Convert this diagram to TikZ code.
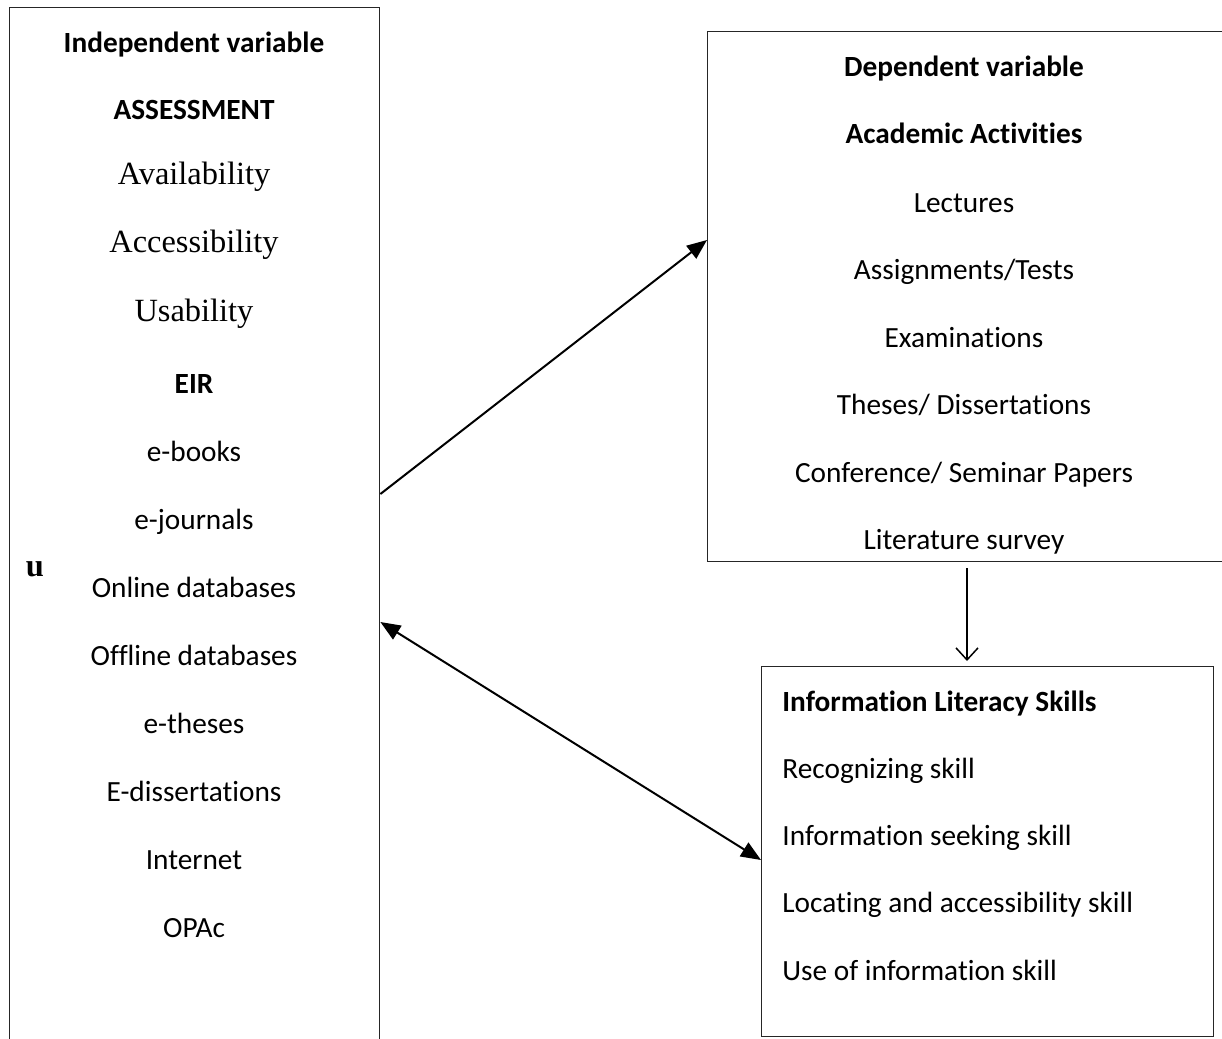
\documentclass[tikz,border=0pt]{standalone}
\usepackage{fontspec}
\setmainfont{Carlito}[Ligatures=NoCommon]
\newfontfamily\timesf{Liberation Serif}
\usetikzlibrary{arrows.meta,calc}
\begin{document}
\begin{tikzpicture}[x=0.5pt,y=-0.5pt,
  box/.style={draw=black!85,line width=0.7pt,rectangle,inner sep=0pt,anchor=north west},
  ctext/.style={inner sep=0pt,anchor=base,font=\fontsize{14.65pt}{16pt}\selectfont},
  btext/.style={ctext,font=\fontsize{14.65pt}{16pt}\selectfont\bfseries},
  ttext/.style={inner sep=0pt,anchor=base,font=\fontsize{16.2pt}{18pt}\selectfont\timesf},
  ltext/.style={inner sep=0pt,anchor=base west,font=\fontsize{14.65pt}{16pt}\selectfont},
  lbtext/.style={ltext,font=\fontsize{14.65pt}{16pt}\selectfont\bfseries},
  conn/.style={line width=1pt,-{Triangle[length=10pt,width=8pt]}},
  dconn/.style={line width=1pt,{Triangle[length=10pt,width=8pt]}-{Triangle[length=10pt,width=8pt]}},
  vconn/.style={line width=0.75pt,-{Straight Barb[length=6pt,width=11pt]}}]
\clip (0,0) rectangle (1222,1039);
\fill[white] (0,0) rectangle (1222,1039);
% boxes
\node[box,minimum width=185pt,minimum height=519pt] (L) at (9,7) {};
\node[box,minimum width=259pt,minimum height=265pt] (T) at (707,31) {};
\node[box,minimum width=226pt,minimum height=185pt] (B) at (761,666) {};
% left box texts
\node[btext] (l1) at (194,52) {Independent variable};
\node[btext] (l2) at (194,119) {ASSESSMENT};
\node[ttext] (l3) at (194,184) {Availability};
\node[ttext] (l4) at (194,252) {Accessibility};
\node[ttext] (l5) at (194,321) {Usability};
\node[btext] (l6) at (194,393) {EIR};
\node[ctext] (l7) at (194,461) {e-books};
\node[ctext] (l8) at (194,529) {e-journals};
\node[ctext] (l9) at (194,597) {Online databases};
\node[ctext] (l10) at (194,665) {Offline databases};
\node[ctext] (l11) at (194,733) {e-theses};
\node[ctext] (l12) at (194,801) {E-dissertations};
\node[ctext] (l13) at (194,869) {Internet};
\node[ctext] (l14) at (194,937) {OPAc};
\node[inner sep=0pt,anchor=base,font=\fontsize{16.2pt}{18pt}\selectfont\timesf\bfseries] (u) at (35,576) {u};
% top right box texts
\node[btext] (t1) at (964,76) {Dependent variable};
\node[btext] (t2) at (964,143) {Academic Activities};
\node[ctext] (t3) at (964,212) {Lectures};
\node[ctext] (t4) at (964,279.5) {Assignments/Tests};
\node[ctext] (t5) at (964,347) {Examinations};
\node[ctext] (t6) at (964,414.5) {Theses/ Dissertations};
\node[ctext] (t7) at (964,482) {Conference/ Seminar Papers};
\node[ctext] (t8) at (964,549.5) {Literature survey};
% bottom right box texts
\node[lbtext] (b1) at (782,711) {Information Literacy Skills};
\node[ltext] (b2) at (782,778) {Recognizing skill};
\node[ltext] (b3) at (782,845) {Information seeking skill};
\node[ltext] (b4) at (782,912) {Locating and accessibility skill};
\node[ltext] (b5) at (782,980) {Use of information skill};
% connectors
\draw[conn] ($(L.north east)+(0,487)$) -- ($(T.north west)+(0,209)$);
\draw[dconn] ($(L.north east)+(0,615)$) -- ($(B.north west)+(0,194)$);
\draw[vconn] ($(T.south west)+(260,6)$) -- ($(B.north west)+(206,-5)$);
\end{tikzpicture}
\end{document}
